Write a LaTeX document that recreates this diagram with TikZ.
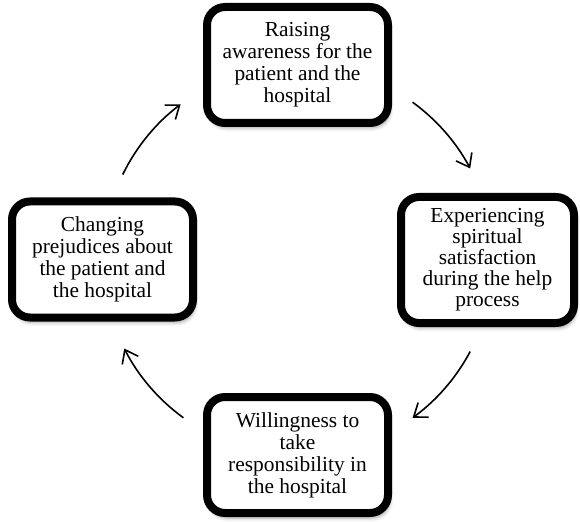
\documentclass[tikz,border=0pt]{standalone}
\usepackage{fontspec}
\setmainfont{Liberation Serif}
\usepackage{tikz}
\usetikzlibrary{arrows.meta, positioning, shadows.blur}

\begin{document}
\begin{tikzpicture}[x=0.5pt, y=0.5pt,
  stagebox/.style={draw=black, fill=white, line width=4pt, rounded corners=9pt,
    minimum width=90.5pt, minimum height=58pt, align=center, inner sep=1pt,
    font=\fontsize{10.7}{11}\selectfont,
    blur shadow={shadow xshift=1pt, shadow yshift=-2.5pt, shadow blur steps=6, shadow opacity=35}},
  cyclearrow/.style={-{Straight Barb[length=6pt, width=9pt]}, line width=0.8pt}]

  \useasboundingbox (0,0) rectangle (580,521);

  \node[stagebox] (aware) at (297.5,456) {Raising\\awareness for the\\patient and the\\hospital};
  \node[stagebox, minimum width=86.5pt, minimum height=63pt, font=\fontsize{10.7}{10.5}\selectfont] (spirit) at (487.5,261) {Experiencing\\spiritual\\satisfaction\\during the help\\process};
  \node[stagebox] (respons) at (297.5,66) {Willingness to\\take\\responsibility in\\the hospital};
  \node[stagebox] (prejud) at (102.5,261.5) {Changing\\prejudices about\\the patient and\\the hospital};

  % arcs on one circle round the middle
  \coordinate (hub) at (298,261);
  \draw[cyclearrow] (hub) ++(54:97.5pt) arc[start angle=54, end angle=28, radius=97.5pt];
  \draw[cyclearrow] (hub) ++(-28:97.5pt) arc[start angle=-28, end angle=-54, radius=97.5pt];
  \draw[cyclearrow] (hub) ++(-126:97.5pt) arc[start angle=-126, end angle=-153, radius=97.5pt];
  \draw[cyclearrow] (hub) ++(154:97.5pt) arc[start angle=154, end angle=127, radius=97.5pt];
\end{tikzpicture}
\end{document}
